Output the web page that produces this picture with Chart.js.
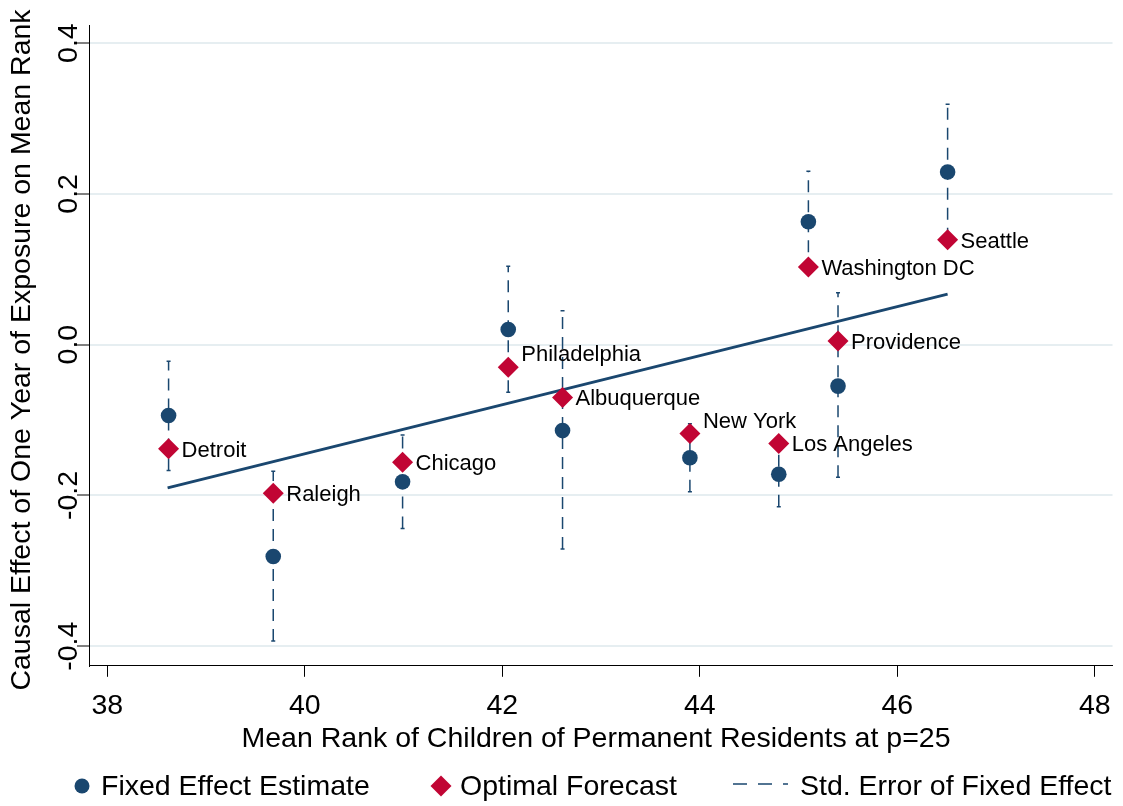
<!DOCTYPE html>
<html>
<head>
<meta charset="utf-8">
<script src="https://cdn.jsdelivr.net/npm/chart.js@4/dist/chart.umd.min.js"></script>
<style>
  html, body { margin: 0; padding: 0; background: #fff; }
  #wrap { width: 1123px; height: 806px; }
</style>
</head>
<body>
<div id="wrap"><canvas id="chart" width="1123" height="806"></canvas></div>
<script>
// data
const cities   = ['Detroit', 'Raleigh', 'Chicago', 'Philadelphia', 'Albuquerque', 'New York', 'Los Angeles', 'Washington DC', 'Providence', 'Seattle'];
const meanRank = [38.62, 39.68, 40.99, 42.06, 42.61, 43.90, 44.80, 45.10, 45.40, 46.51];
const fixedEff = [-0.094, -0.281, -0.182, 0.020, -0.114, -0.150, -0.172, 0.163, -0.055, 0.229];
const forecast = [-0.138, -0.197, -0.156, -0.030, -0.070, -0.118, -0.131, 0.103, 0.005, 0.139];
const seLow    = [-0.167, -0.393, -0.244, -0.063, -0.271, -0.195, -0.215, 0.096, -0.176, 0.139];
const seHigh   = [-0.022, -0.168, -0.120, 0.104, 0.045, -0.105, -0.129, 0.230, 0.069, 0.319];
const fitX = [38.61, 46.51];
const fitY = [-0.190, 0.067];
const yTicks = [-0.4, -0.2, 0.0, 0.2, 0.4];

const NAVY = '#1a476f';
const RED = '#c10534';
const FONT = "'Liberation Sans', Arial, sans-serif";

// 误差线：每个城市一段，用 null 断开
const errorPts = [];
meanRank.forEach((x, i) => {
    errorPts.push({x: x, y: seLow[i]});
    errorPts.push({x: x, y: seHigh[i]});
    errorPts.push({x: x, y: null});
});

// 城市标签、轴标题、y轴刻度文字、图例
const extras = {
    id: 'extras',
    afterDatasetsDraw(chart) {
        const ctx = chart.ctx;
        const xs = chart.scales.x, ys = chart.scales.y;
        const raised = ['Philadelphia', 'New York'];
        ctx.save();
        ctx.fillStyle = '#000';
        ctx.font = '22px ' + FONT;
        ctx.textAlign = 'left';
        ctx.textBaseline = 'middle';
        cities.forEach((name, i) => {
            const px = xs.getPixelForValue(meanRank[i]);
            const py = ys.getPixelForValue(forecast[i]);
            const dy = raised.includes(name) ? -12 : 2;
            ctx.fillText(name, px + 13, py + dy);
        });
        ctx.restore();
    },
    afterDraw(chart) {
        const ctx = chart.ctx;
        const ys = chart.scales.y;
        ctx.save();
        ctx.fillStyle = '#000';
        ctx.font = '28.5px ' + FONT;
        ctx.textAlign = 'center';
        ctx.textBaseline = 'middle';
        // rotated y tick labels
        yTicks.forEach(v => {
            ctx.save();
            ctx.translate(69, ys.getPixelForValue(v));
            ctx.rotate(-Math.PI / 2);
            ctx.fillText(v.toFixed(1), 0, 0);
            ctx.restore();
        });
        // y title
        ctx.save();
        ctx.translate(22, 350);
        ctx.rotate(-Math.PI / 2);
        ctx.fillText('Causal Effect of One Year of Exposure on Mean Rank', 0, 0);
        ctx.restore();
        // x title
        ctx.fillText('Mean Rank of Children of Permanent Residents at p=25', 596, 739);

        // legend
        const ly = 786;
        ctx.textAlign = 'left';
        ctx.fillStyle = NAVY;
        ctx.beginPath();
        ctx.arc(82, ly, 7.5, 0, Math.PI * 2);
        ctx.fill();
        ctx.fillStyle = RED;
        ctx.beginPath();
        ctx.moveTo(441 - 10.5, ly);
        ctx.lineTo(441, ly - 10.5);
        ctx.lineTo(441 + 10.5, ly);
        ctx.lineTo(441, ly + 10.5);
        ctx.closePath();
        ctx.fill();
        ctx.strokeStyle = NAVY;
        ctx.lineWidth = 1.5;
        ctx.setLineDash([14, 11]);
        ctx.beginPath();
        ctx.moveTo(733, ly - 2);
        ctx.lineTo(788, ly - 2);
        ctx.stroke();
        ctx.setLineDash([]);
        ctx.fillStyle = '#000';
        ctx.fillText('Fixed Effect Estimate', 101, ly + 1);
        ctx.fillText('Optimal Forecast', 460, ly + 1);
        ctx.fillText('Std. Error of Fixed Effect', 800, ly + 1);
        ctx.restore();
    }
};

Chart.defaults.color = '#000';
Chart.defaults.font.family = FONT;

new Chart(document.getElementById('chart').getContext('2d'), {
    type: 'scatter',
    data: {
        datasets: [
            {
                label: 'Fixed Effect Estimate',
                data: meanRank.map((x, i) => ({x: x, y: fixedEff[i]})),
                pointStyle: 'circle',
                pointRadius: 7.8,
                pointBorderWidth: 0,
                backgroundColor: NAVY,
                borderColor: NAVY
            },
            {
                label: 'Optimal Forecast',
                data: meanRank.map((x, i) => ({x: x, y: forecast[i]})),
                pointStyle: 'rectRot',
                pointRadius: 10.5,
                pointBorderWidth: 0,
                backgroundColor: RED,
                borderColor: RED
            },
            {
                label: 'Std. Error of Fixed Effect',
                data: errorPts,
                showLine: true,
                spanGaps: false,
                borderColor: NAVY,
                borderWidth: 1.5,
                borderDash: [12, 8],
                pointStyle: 'line',
                pointRadius: 2,
                pointBorderWidth: 1.5,
                pointBorderColor: NAVY,
                backgroundColor: NAVY
            },
            {
                label: 'Fit',
                data: fitX.map((x, i) => ({x: x, y: fitY[i]})),
                showLine: true,
                borderColor: NAVY,
                borderWidth: 3,
                pointRadius: 0
            }
        ]
    },
    options: {
        responsive: false,
        animation: false,
        devicePixelRatio: 1,
        layout: { padding: { left: 77, top: 25, right: 8, bottom: 71 } },
        plugins: {
            legend: { display: false },
            tooltip: { enabled: false }
        },
        scales: {
            x: {
                type: 'linear',
                min: 37.814,
                max: 48.18,
                afterFit(scale) {
                    // 不让最后一个刻度文字挤占右边距
                    scale.paddingLeft = 0;
                    scale.paddingRight = 0;
                },
                border: { display: true, color: '#000', width: 1 },
                grid: { display: true, drawOnChartArea: false, drawTicks: true, tickLength: 11, tickColor: '#000' },
                ticks: { stepSize: 2, includeBounds: false, padding: 12, font: { size: 28.5 } }
            },
            y: {
                type: 'linear',
                min: -0.426,
                max: 0.424,
                border: { display: true, color: '#000', width: 1 },
                grid: { color: '#e6eef1', lineWidth: 2, drawTicks: true, tickLength: 12, tickColor: '#000', tickWidth: 1 },
                ticks: { stepSize: 0.2, includeBounds: false, display: false }
            }
        }
    },
    plugins: [extras]
});
</script>
</body>
</html>
